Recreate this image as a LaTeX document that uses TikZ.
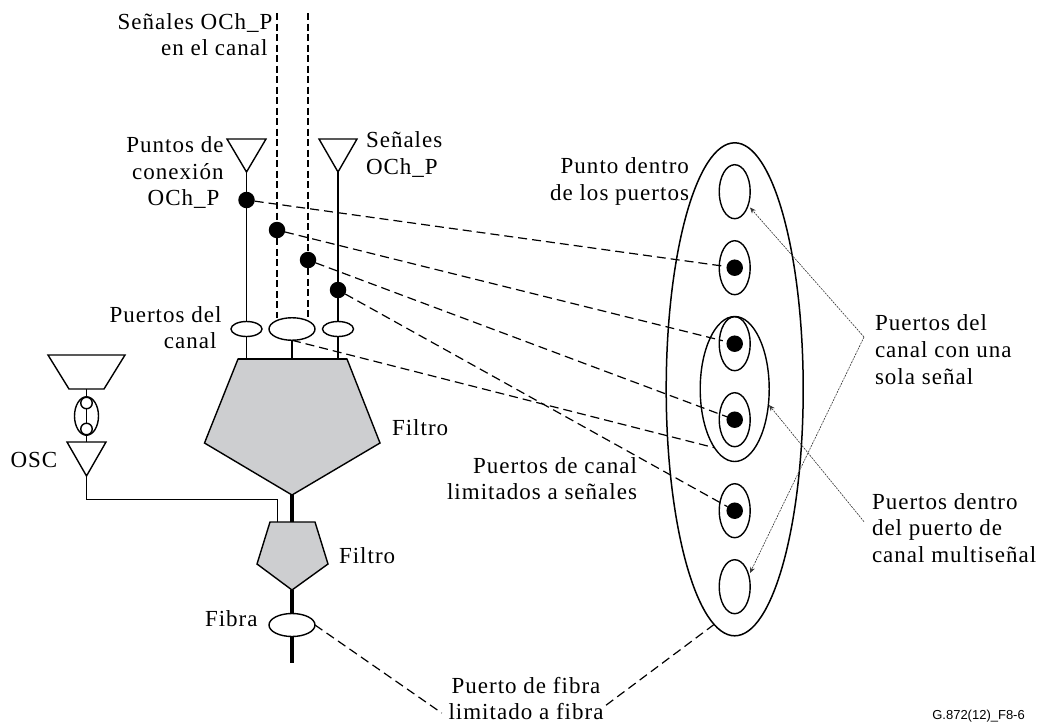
\documentclass[tikz,border=0pt]{standalone}
\usepackage{fontspec}
\setmainfont[LetterSpace=4.4]{Liberation Serif}
\newfontfamily\sansfig{Liberation Sans}
\usetikzlibrary{shapes.geometric,arrows.meta}
\definecolor{fillgray}{HTML}{CDCED0}
\tikzset{
  lbl/.style={inner sep=0pt,outer sep=0pt,font=\fontsize{23}{26.7}\selectfont},
  port/.style={ellipse,draw=black,line width=1.4pt,fill=white,inner sep=0pt,outer sep=0pt,minimum width=#1},
  sport/.style={port=31pt,minimum height=15pt},
  bport/.style={port=46pt,minimum height=22.5pt},
  vport/.style={port=31pt,minimum height=54pt},
  blob/.style={circle,fill=black,inner sep=0pt,outer sep=0pt,minimum size=16.5pt},
  wire/.style={line width=1.4pt,draw=black},
  fibre/.style={line width=3.6pt,draw=black},
  chan/.style={line width=1.7pt,dash pattern=on 7pt off 3.5pt},
  linkline/.style={line width=1.2pt,dash pattern=on 9pt off 5pt},
  noteline/.style={line width=0.6pt,dash pattern=on 2pt off 1pt,draw=black!80},
  notetip/.style={-{Stealth[length=6pt,width=5pt]}},
  outl/.style={line width=1.4pt,draw=black,line join=miter},
}
\begin{document}
\begin{tikzpicture}[x=1pt,y=-1pt]
\useasboundingbox (0,0) rectangle (1040,723);
% --- coordinates
\coordinate (c1t) at (277,13); \coordinate (c2t) at (308,13);
\coordinate (c1b) at (277,318); \coordinate (c2b) at (308,318);
\coordinate (tl) at (246.5,172); \coordinate (tr) at (338,172);
\coordinate (f1a) at (246.5,359); \coordinate (f1b) at (292,359); \coordinate (f1c) at (338,359);
\coordinate (f1tip) at (292,495);
\coordinate (f2top) at (292,522); \coordinate (f2osc) at (277.5,522);
\coordinate (f2tip) at (292,590);
\coordinate (fend) at (292,663);
\coordinate (oscbend1) at (86.5,499.5); \coordinate (oscbend2) at (277.5,499.5);
\coordinate (osctip) at (86.5,476);
\coordinate (osctop) at (86.5,442); \coordinate (trapb) at (86.5,389);
\coordinate (fl1) at (441.7,713); \coordinate (fl2) at (605,706);
\coordinate (a1) at (864,337); \coordinate (a2) at (864,521.7);
\coordinate (h1) at (750,207.5); \coordinate (h2) at (750,573); \coordinate (h3) at (769,405);
% --- filters and triangles
\draw[outl,fill=fillgray] (238,359) -- (347,359) -- (380,443) -- (f1tip) -- (204.5,443) -- cycle;
\draw[outl,fill=fillgray] (270,522) -- (315,522) -- (328,564) -- (f2tip) -- (257,564) -- cycle;
\draw[outl] (227,139) -- (266,139) -- (tl) -- cycle;
\draw[outl] (319,139) -- (357,139) -- (tr) -- cycle;
\draw[outl] (67,442) -- (106,442) -- (osctip) -- cycle;
\draw[outl] (48,355) -- (125,355) -- (104,389) -- (69,389) -- cycle;
\draw[line width=2pt] (238,359) -- (347,359);
% --- large port ellipses (background)
\node[ellipse,draw=black,line width=1.5pt,inner sep=0pt,outer sep=0pt,minimum width=137pt,minimum height=493pt] (oe) at (734.7,389.3) {};
\node[ellipse,draw=black,line width=1.4pt,inner sep=0pt,outer sep=0pt,minimum width=69pt,minimum height=145pt] (ml) at (734.7,389) {};
% --- ports
\node[vport,fill=none] (p1) at (734.7,191.7) {};
\node[vport,fill=none] (p2) at (734.7,267.7) {};
\node[vport,fill=none] (p3) at (734.7,343.7) {};
\node[vport,fill=none] (p4) at (734.7,419.7) {};
\node[vport,fill=none] (p5) at (734.7,510.7) {};
\node[vport,fill=none] (p6) at (734.7,586.7) {};
\node[sport] (pl) at (246.5,329) {};
\node[bport] (pc) at (292,329) {};
\node[sport] (pr) at (338,329) {};
\node[bport,minimum height=23pt] (pf) at (292,625) {};
\node[blob] (d1) at (246.5,200) {};
\node[blob] (d2) at (277,230) {};
\node[blob] (d3) at (308,260) {};
\node[blob] (d4) at (338,290) {};
\node[blob] (q2) at (734.7,267.7) {};
\node[blob] (q3) at (734.7,343.7) {};
\node[blob] (q4) at (734.7,419.7) {};
\node[blob] (q5) at (734.7,510.7) {};
% --- OSC link
\node[ellipse,draw=black,line width=1.4pt,inner sep=0pt,minimum width=24pt,minimum height=38.5pt] (ol) at (86.5,416) {};
\draw[wire] (trapb) -- (osctop);
\node[circle,draw=black,line width=1.4pt,fill=white,inner sep=0pt,minimum size=11.5pt] (ol1) at (86.5,403) {};
\node[circle,draw=black,line width=1.4pt,fill=white,inner sep=0pt,minimum size=11.5pt] (ol2) at (86.5,429) {};
% --- wires
\draw[wire] (tl) -- (d1) -- (pl);
\draw[wire] (tr) -- (d4) -- (pr);
\draw[wire] (pl) -- (f1a);
\draw[wire] (pc) -- (f1b);
\draw[wire] (pr) -- (f1c);
\draw[wire] (osctip) -- (oscbend1) -- (oscbend2) -- (f2osc);
\draw[fibre] (f1tip) -- (f2top);
\draw[fibre] (f2tip) -- (pf);
\draw[fibre] (pf) -- (fend);
\draw[chan] (c1t) -- (d2) -- (c1b);
\draw[chan] (c2t) -- (d3) -- (c2b);
% --- dashed mapping lines
\draw[linkline,shorten >=4pt] (d1) -- (q2);
\draw[linkline,shorten >=4pt] (d2) -- (q3);
\draw[linkline] (d3) -- (q4);
\draw[linkline] (d4) -- (q5);
\draw[linkline] (pc.south) -- (ml.251);
\draw[linkline] (pf.east) -- (fl1);
\draw[linkline] (oe.265) -- (fl2);
% --- notes
\draw[noteline,notetip] (a1) -- (h1);
\draw[noteline,notetip] (a1) -- (h2);
\draw[noteline,notetip] (a2) -- (h3);
% --- labels
\node[lbl,align=right,anchor=east] (t1) at (272.5,34.5) {Señales OCh\_P\\en el canal\hspace*{5pt}};
\node[lbl,align=right,anchor=east] (t2) at (223.5,172.5) {Puntos de\\conexión\\OCh\_P\hspace*{4pt}};
\node[lbl,align=left,anchor=west] (t3) at (366,154.5) {Señales\\OCh\_P};
\node[lbl,align=right,anchor=east] (t4) at (221.5,327.5) {Puertos del\\canal\hspace*{5pt}};
\node[lbl,anchor=west] (t5) at (10.5,460) {OSC};
\node[lbl,anchor=west] (t6) at (392,428) {Filtro};
\node[lbl,anchor=west] (t7) at (339,556) {Filtro};
\node[lbl,anchor=west] (t8) at (205,619) {Fibra};
\node[lbl,align=right,anchor=east] (t9) at (689,181.5) {Punto dentro\\de los puertos};
\node[lbl,align=right,anchor=east] (t10) at (637,478.5) {Puertos de canal\\limitados a señales};
\node[lbl,align=center,anchor=center] (t11) at (526,698.5) {Puerto de fibra\\limitado a fibra};
\node[lbl,align=left,anchor=west] (t12) at (875,349.5) {Puertos del\\canal con una\\sola señal};
\node[lbl,align=left,anchor=west] (t13) at (872,528) {Puertos dentro\\del puerto de\\canal multiseñal};
\node[inner sep=0pt,anchor=east,font=\sansfig\fontsize{13}{15}\selectfont] (t14) at (1025,716) {G.872(12)\_F8-6};
\end{tikzpicture}
\end{document}
